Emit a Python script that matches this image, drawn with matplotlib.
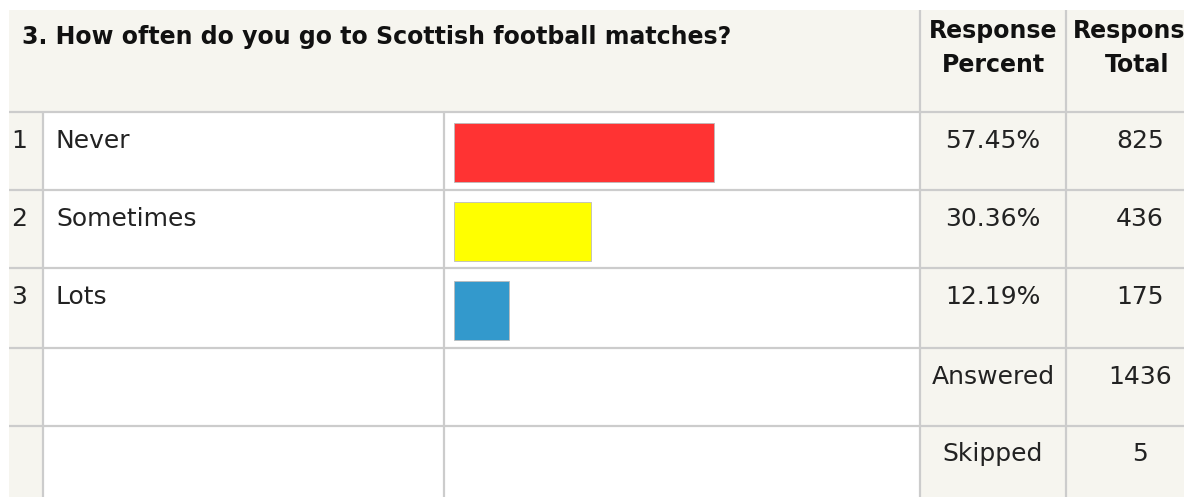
import matplotlib.pyplot as plt
from matplotlib.patches import Rectangle

# Survey results
question = "3. How often do you go to Scottish football matches?"
answers = ["Never", "Sometimes", "Lots"]
percents = [57.45, 30.36, 12.19]
totals = [825, 436, 175]
bar_colors = ["#ff3333", "#ffff00", "#3399cc"]
answered = 1436
skipped = 5

W, H = 1184, 497
beige = "#f6f5ef"
grid = "#cccccc"
ink = "#222222"

fig = plt.figure(figsize=(W / 100, H / 100), dpi=100)
fig.patch.set_facecolor("white")

# table drawn in pixel units (y grows downward)
ax = fig.add_axes([0, 0, 1, 1])
ax.set_xlim(0, W)
ax.set_ylim(H, 0)
ax.axis("off")

left, top, head_bottom = 9, 10, 112
col_num, col_bar, col_pct, col_tot = 43, 444, 920, 1066
row_edges = [112, 190, 268, 348, 426, H]

# shaded areas: header band, number column, percent/total columns
ax.add_patch(Rectangle((left, top), W - left, head_bottom - top, color=beige, lw=0))
ax.add_patch(Rectangle((left, head_bottom), col_num - left, H - head_bottom, color=beige, lw=0))
ax.add_patch(Rectangle((col_pct, head_bottom), W - col_pct, H - head_bottom, color=beige, lw=0))

for y in row_edges[:-1]:
    ax.plot([left, W], [y, y], color=grid, lw=1.6, solid_capstyle="butt")
for x in (col_num, col_bar):
    ax.plot([x, x], [head_bottom, H], color=grid, lw=1.6, solid_capstyle="butt")
for x in (col_pct, col_tot):
    ax.plot([x, x], [top, H], color=grid, lw=1.6, solid_capstyle="butt")

# header
ax.text(22, 44, question, fontsize=17, fontweight="bold", color="#111111", va="baseline")
pct_mid = (col_pct + col_tot) / 2
tot_mid = 1140
for x, lines in ((pct_mid, ("Response", "Percent")), (tot_mid - 3, ("Response", "Total"))):
    ax.text(x, 38, lines[0], fontsize=17, fontweight="bold", color="#111111", ha="center", va="baseline")
    ax.text(x, 72, lines[1], fontsize=17, fontweight="bold", color="#111111", ha="center", va="baseline")

# answer rows
for i, (name, p, t) in enumerate(zip(answers, percents, totals)):
    base = row_edges[i] + 36
    ax.text(11, base, str(i + 1), fontsize=18, color=ink, va="baseline")
    ax.text(56, base, name, fontsize=18, color=ink, va="baseline")
    ax.text(pct_mid, base, f"{p:.2f}%", fontsize=18, color=ink, ha="center", va="baseline")
    ax.text(tot_mid, base, str(t), fontsize=18, color=ink, ha="center", va="baseline")

# summary rows
ax.text(pct_mid, row_edges[3] + 36, "Answered", fontsize=18, color=ink, ha="center", va="baseline")
ax.text(tot_mid, row_edges[3] + 36, str(answered), fontsize=18, color=ink, ha="center", va="baseline")
ax.text(pct_mid, row_edges[4] + 35, "Skipped", fontsize=18, color=ink, ha="center", va="baseline")
ax.text(tot_mid, row_edges[4] + 35, str(skipped), fontsize=18, color=ink, ha="center", va="baseline")

# percentage bars, 0-100 scale across the bar cell
bx0, bx1 = 454, 906
by0, by1 = 113.5, 349.5
bax = fig.add_axes([bx0 / W, 1 - by1 / H, (bx1 - bx0) / W, (by1 - by0) / H])
bax.barh(range(len(answers)), percents, height=0.75, color=bar_colors,
         edgecolor="#bbbbbb", linewidth=0.6)
bax.set_xlim(0, 100)
bax.set_ylim(len(answers) - 0.5, -0.5)
bax.axis("off")

fig.savefig("out.png", dpi=100)
